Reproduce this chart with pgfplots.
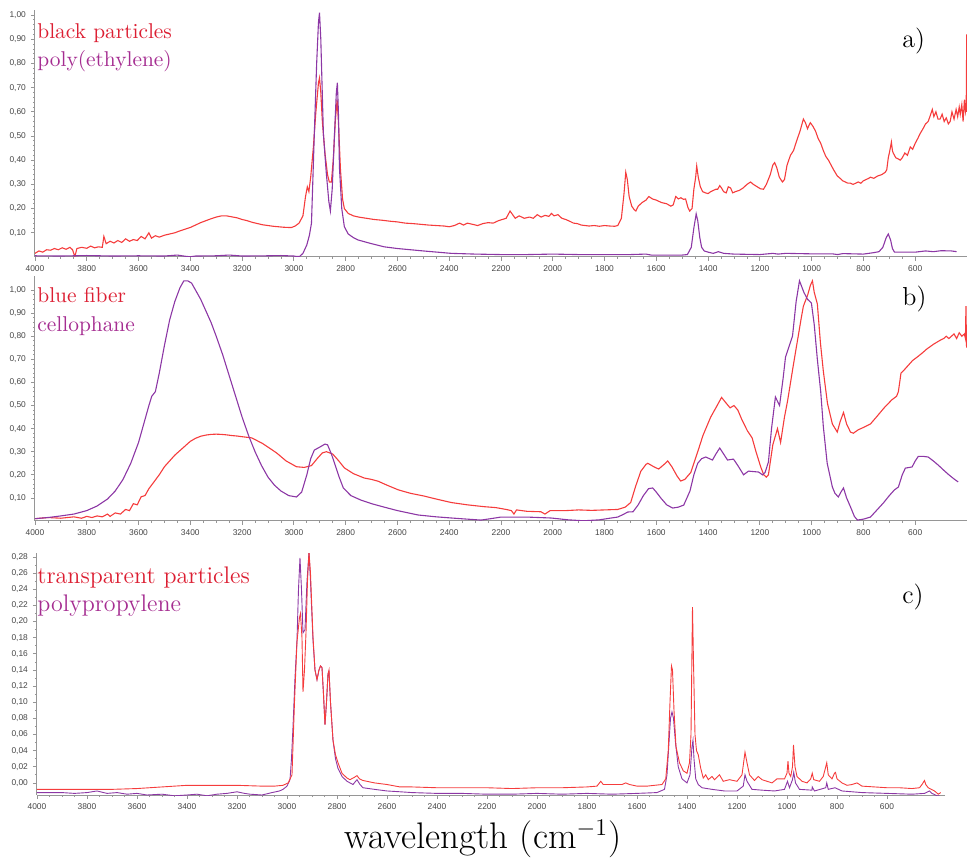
\documentclass[border=0pt]{standalone}
\usepackage{fontspec}
\usepackage{pgfplots}
\usepackage{pgfplotstable}
\pgfplotsset{compat=1.18}
\newfontfamily\ticksans{Liberation Sans}
\definecolor{redline}{RGB}{245,60,60}
\definecolor{purpline}{RGB}{140,55,165}
\definecolor{redtxt}{RGB}{220,30,50}
\definecolor{purptxt}{RGB}{165,45,145}
\definecolor{axgray}{RGB}{150,150,150}
\definecolor{ticktxt}{RGB}{70,70,70}

% ---------- panel a ----------
\pgfplotstableread[row sep=\\]{x y\\
4000 0.015\\ 3985 0.025\\ 3970 0.020\\ 3955 0.030\\ 3940 0.028\\ 3925 0.035\\ 3910 0.030\\ 3895 0.038\\ 3880 0.032\\ 3865 0.040\\
3855 0.030\\ 3846 0.002\\ 3838 0.035\\ 3820 0.040\\ 3800 0.036\\ 3785 0.045\\ 3770 0.038\\ 3755 0.042\\ 3740 0.040\\ 3734 0.085\\
3725 0.055\\ 3710 0.065\\ 3695 0.058\\ 3680 0.068\\ 3665 0.060\\ 3650 0.075\\ 3635 0.065\\ 3620 0.072\\ 3605 0.068\\ 3590 0.085\\
3575 0.075\\ 3560 0.100\\ 3550 0.078\\ 3535 0.088\\ 3520 0.082\\ 3500 0.090\\ 3480 0.095\\ 3460 0.100\\ 3440 0.108\\ 3420 0.115\\
3400 0.122\\ 3380 0.132\\ 3360 0.142\\ 3340 0.150\\ 3320 0.158\\ 3300 0.165\\ 3280 0.170\\ 3260 0.170\\ 3240 0.166\\ 3220 0.162\\
3200 0.155\\ 3180 0.150\\ 3160 0.143\\ 3140 0.138\\ 3120 0.133\\ 3100 0.130\\ 3080 0.127\\ 3060 0.125\\ 3040 0.123\\ 3020 0.122\\
3009 0.122\\ 2995 0.128\\ 2980 0.140\\ 2965 0.170\\ 2955 0.250\\ 2948 0.290\\ 2942 0.270\\ 2935 0.330\\ 2925 0.450\\ 2915 0.600\\
2905 0.720\\ 2901 0.740\\ 2896 0.680\\ 2890 0.560\\ 2880 0.430\\ 2870 0.340\\ 2863 0.310\\ 2855 0.310\\ 2848 0.400\\ 2840 0.560\\
2833 0.650\\ 2828 0.560\\ 2820 0.360\\ 2812 0.240\\ 2805 0.200\\ 2790 0.180\\ 2770 0.170\\ 2750 0.165\\ 2720 0.160\\ 2690 0.155\\
2660 0.152\\ 2630 0.148\\ 2600 0.145\\ 2570 0.140\\ 2540 0.138\\ 2510 0.135\\ 2480 0.132\\ 2450 0.130\\ 2420 0.128\\ 2400 0.125\\
2380 0.130\\ 2360 0.140\\ 2345 0.132\\ 2330 0.140\\ 2310 0.135\\ 2290 0.130\\ 2270 0.138\\ 2250 0.142\\ 2230 0.140\\ 2210 0.150\\
2195 0.155\\ 2180 0.160\\ 2165 0.190\\ 2155 0.175\\ 2145 0.160\\ 2130 0.170\\ 2110 0.160\\ 2090 0.165\\ 2075 0.160\\ 2060 0.175\\
2045 0.165\\ 2030 0.172\\ 2015 0.168\\ 2005 0.180\\ 1995 0.170\\ 1980 0.175\\ 1965 0.160\\ 1950 0.155\\ 1935 0.148\\ 1920 0.140\\
1905 0.138\\ 1890 0.132\\ 1875 0.130\\ 1860 0.128\\ 1840 0.130\\ 1820 0.127\\ 1800 0.130\\ 1780 0.128\\ 1760 0.127\\ 1749 0.130\\
1735 0.160\\ 1725 0.260\\ 1718 0.350\\ 1712 0.320\\ 1705 0.250\\ 1695 0.210\\ 1685 0.195\\ 1679 0.190\\ 1670 0.210\\ 1655 0.225\\
1640 0.235\\ 1629 0.250\\ 1615 0.240\\ 1600 0.235\\ 1580 0.225\\ 1560 0.220\\ 1544 0.210\\ 1535 0.215\\ 1525 0.250\\ 1515 0.240\\
1505 0.245\\ 1495 0.238\\ 1487 0.240\\ 1478 0.205\\ 1471 0.190\\ 1462 0.200\\ 1455 0.280\\ 1448 0.330\\ 1444 0.376\\ 1438 0.330\\
1430 0.290\\ 1421 0.270\\ 1410 0.265\\ 1400 0.262\\ 1390 0.270\\ 1380 0.275\\ 1370 0.280\\ 1363 0.280\\ 1355 0.295\\ 1348 0.285\\
1340 0.270\\ 1330 0.265\\ 1322 0.290\\ 1313 0.285\\ 1305 0.265\\ 1295 0.270\\ 1280 0.275\\ 1265 0.285\\ 1250 0.300\\ 1236 0.310\\
1225 0.300\\ 1210 0.290\\ 1198 0.282\\ 1186 0.280\\ 1175 0.300\\ 1160 0.340\\ 1150 0.380\\ 1143 0.390\\ 1135 0.370\\ 1125 0.330\\
1113 0.310\\ 1105 0.320\\ 1095 0.380\\ 1082 0.420\\ 1070 0.440\\ 1058 0.480\\ 1045 0.520\\ 1032 0.570\\ 1024 0.555\\ 1016 0.530\\
1010 0.545\\ 1005 0.555\\ 995 0.540\\ 985 0.520\\ 975 0.490\\ 965 0.470\\ 955 0.440\\ 945 0.415\\ 935 0.400\\ 925 0.380\\
915 0.360\\ 901 0.335\\ 890 0.325\\ 880 0.315\\ 870 0.310\\ 860 0.305\\ 850 0.305\\ 840 0.300\\ 830 0.305\\ 820 0.310\\
810 0.305\\ 800 0.315\\ 790 0.320\\ 780 0.325\\ 773 0.330\\ 760 0.325\\ 745 0.335\\ 730 0.340\\ 716 0.350\\ 710 0.360\\
704 0.410\\ 698 0.440\\ 692 0.475\\ 688 0.440\\ 685 0.430\\ 675 0.410\\ 665 0.405\\ 658 0.400\\ 650 0.410\\ 640 0.430\\
630 0.420\\ 619 0.455\\ 610 0.445\\ 600 0.470\\ 590 0.490\\ 581 0.510\\ 570 0.530\\ 560 0.550\\ 550 0.560\\ 540 0.590\\
534 0.610\\ 528 0.580\\ 520 0.600\\ 512 0.570\\ 504 0.570\\ 496 0.590\\ 488 0.560\\ 480 0.575\\ 472 0.550\\ 465 0.560\\
458 0.600\\ 450 0.570\\ 442 0.610\\ 436 0.580\\ 430 0.620\\ 426 0.590\\ 420 0.630\\ 415 0.560\\ 410 0.650\\ 406 0.600\\
403 0.620\\ 401 0.920\\ 400 0.600\\
}\redA

\pgfplotstableread[row sep=\\]{x y\\
4000 0.005\\ 3900 0.004\\ 3800 0.006\\ 3700 0.004\\ 3600 0.005\\ 3500 0.004\\ 3450 0.008\\ 3420 0.003\\ 3400 0.001\\ 3380 0.004\\
3300 0.005\\ 3250 0.008\\ 3200 0.004\\ 3100 0.005\\ 3050 0.006\\ 3000 0.004\\ 2990 0.002\\ 2978 0.002\\ 2965 0.015\\ 2950 0.050\\
2940 0.090\\ 2932 0.140\\ 2921 0.510\\ 2912 0.800\\ 2905 0.970\\ 2901 1.010\\ 2896 0.900\\ 2886 0.510\\ 2875 0.350\\ 2865 0.230\\
2859 0.190\\ 2852 0.280\\ 2843 0.510\\ 2836 0.680\\ 2832 0.720\\ 2828 0.600\\ 2824 0.370\\ 2815 0.200\\ 2805 0.125\\ 2790 0.095\\
2770 0.080\\ 2751 0.070\\ 2700 0.055\\ 2651 0.042\\ 2600 0.035\\ 2500 0.025\\ 2392 0.015\\ 2300 0.012\\ 2200 0.010\\ 2100 0.010\\
2000 0.012\\ 1900 0.010\\ 1800 0.010\\ 1700 0.010\\ 1640 0.012\\ 1620 0.008\\ 1500 0.008\\ 1480 0.010\\ 1465 0.040\\ 1455 0.120\\
1446 0.178\\ 1440 0.150\\ 1432 0.080\\ 1425 0.040\\ 1415 0.025\\ 1400 0.020\\ 1380 0.015\\ 1360 0.022\\ 1340 0.015\\ 1300 0.012\\
1200 0.010\\ 1150 0.015\\ 1130 0.012\\ 1100 0.015\\ 1000 0.013\\ 920 0.013\\ 900 0.010\\ 880 0.014\\ 800 0.012\\ 760 0.018\\
740 0.022\\ 725 0.040\\ 712 0.080\\ 704 0.095\\ 695 0.070\\ 688 0.035\\ 680 0.020\\ 650 0.020\\ 600 0.020\\ 560 0.025\\
530 0.022\\ 500 0.026\\ 460 0.025\\ 440 0.022\\
}\purA

% ---------- panel b ----------
\pgfplotstableread[row sep=\\]{x y\\
4000 0.010\\ 3950 0.015\\ 3900 0.012\\ 3850 0.018\\ 3820 0.012\\ 3800 0.020\\ 3780 0.015\\ 3760 0.022\\ 3740 0.018\\ 3720 0.030\\
3710 0.020\\ 3690 0.035\\ 3670 0.030\\ 3650 0.050\\ 3635 0.045\\ 3620 0.075\\ 3605 0.070\\ 3590 0.105\\ 3575 0.110\\ 3560 0.140\\
3540 0.170\\ 3520 0.200\\ 3500 0.235\\ 3480 0.260\\ 3460 0.285\\ 3440 0.305\\ 3420 0.325\\ 3400 0.345\\ 3380 0.358\\ 3360 0.367\\
3340 0.372\\ 3320 0.375\\ 3300 0.376\\ 3280 0.375\\ 3260 0.373\\ 3240 0.370\\ 3220 0.368\\ 3200 0.365\\ 3163 0.360\\ 3120 0.335\\
3067 0.295\\ 3030 0.260\\ 2990 0.235\\ 2960 0.232\\ 2932 0.240\\ 2910 0.270\\ 2890 0.295\\ 2874 0.300\\ 2850 0.290\\ 2828 0.262\\
2805 0.230\\ 2770 0.205\\ 2728 0.186\\ 2700 0.180\\ 2674 0.172\\ 2640 0.155\\ 2597 0.135\\ 2550 0.120\\ 2497 0.108\\ 2450 0.095\\
2392 0.080\\ 2330 0.070\\ 2265 0.062\\ 2220 0.058\\ 2180 0.050\\ 2160 0.045\\ 2150 0.030\\ 2140 0.048\\ 2100 0.042\\ 2046 0.040\\
2030 0.030\\ 2010 0.045\\ 1950 0.045\\ 1900 0.048\\ 1850 0.046\\ 1800 0.048\\ 1749 0.050\\ 1720 0.060\\ 1699 0.080\\ 1680 0.150\\
1660 0.215\\ 1640 0.245\\ 1633 0.250\\ 1610 0.235\\ 1591 0.225\\ 1570 0.245\\ 1556 0.260\\ 1540 0.235\\ 1520 0.195\\ 1506 0.173\\
1490 0.180\\ 1467 0.210\\ 1440 0.300\\ 1420 0.370\\ 1390 0.450\\ 1370 0.490\\ 1348 0.535\\ 1330 0.510\\ 1315 0.490\\ 1300 0.500\\
1285 0.480\\ 1270 0.440\\ 1248 0.390\\ 1230 0.360\\ 1215 0.300\\ 1197 0.235\\ 1185 0.200\\ 1175 0.190\\ 1167 0.200\\ 1150 0.330\\
1132 0.400\\ 1120 0.340\\ 1105 0.450\\ 1093 0.520\\ 1070 0.680\\ 1055 0.780\\ 1040 0.880\\ 1032 0.930\\ 1015 0.980\\ 1005 1.020\\
997 1.040\\ 990 0.990\\ 978 0.940\\ 966 0.770\\ 955 0.650\\ 939 0.510\\ 920 0.420\\ 901 0.385\\ 890 0.430\\ 877 0.470\\
865 0.420\\ 850 0.385\\ 839 0.380\\ 820 0.395\\ 800 0.405\\ 773 0.420\\ 750 0.450\\ 720 0.490\\ 690 0.525\\ 672 0.540\\
665 0.560\\ 655 0.640\\ 646 0.650\\ 630 0.670\\ 610 0.695\\ 592 0.710\\ 570 0.730\\ 555 0.745\\ 542 0.755\\ 530 0.765\\
515 0.775\\ 500 0.785\\ 490 0.790\\ 480 0.800\\ 470 0.790\\ 460 0.800\\ 450 0.810\\ 440 0.790\\ 430 0.815\\ 420 0.800\\
410 0.810\\ 406 0.790\\ 404 0.930\\ 402 0.760\\ 400 0.750\\
}\redB

\pgfplotstableread[row sep=\\]{x y\\
4000 0.010\\ 3950 0.015\\ 3900 0.022\\ 3850 0.030\\ 3800 0.045\\ 3760 0.065\\ 3720 0.095\\ 3690 0.130\\ 3660 0.180\\ 3630 0.250\\
3600 0.340\\ 3580 0.420\\ 3560 0.500\\ 3549 0.540\\ 3535 0.560\\ 3520 0.640\\ 3500 0.760\\ 3480 0.870\\ 3460 0.950\\ 3440 1.010\\
3425 1.040\\ 3410 1.040\\ 3395 1.030\\ 3380 1.000\\ 3360 0.960\\ 3340 0.910\\ 3320 0.860\\ 3300 0.800\\ 3275 0.720\\ 3250 0.630\\
3225 0.540\\ 3200 0.450\\ 3175 0.370\\ 3150 0.300\\ 3125 0.240\\ 3100 0.190\\ 3075 0.155\\ 3050 0.130\\ 3020 0.110\\ 2990 0.104\\
2970 0.125\\ 2950 0.200\\ 2935 0.270\\ 2921 0.307\\ 2900 0.320\\ 2880 0.333\\ 2870 0.330\\ 2855 0.290\\ 2843 0.250\\ 2825 0.190\\
2809 0.143\\ 2780 0.110\\ 2740 0.090\\ 2700 0.075\\ 2651 0.060\\ 2600 0.045\\ 2520 0.026\\ 2450 0.018\\ 2392 0.013\\ 2330 0.008\\
2277 0.004\\ 2240 0.010\\ 2200 0.017\\ 2100 0.017\\ 2007 0.013\\ 1940 0.005\\ 1880 0.001\\ 1820 0.005\\ 1780 0.012\\ 1749 0.017\\
1725 0.030\\ 1710 0.039\\ 1690 0.040\\ 1670 0.070\\ 1650 0.110\\ 1630 0.140\\ 1614 0.143\\ 1600 0.125\\ 1583 0.100\\ 1560 0.070\\
1537 0.056\\ 1515 0.060\\ 1494 0.069\\ 1470 0.130\\ 1455 0.200\\ 1440 0.250\\ 1425 0.270\\ 1409 0.277\\ 1383 0.264\\ 1370 0.290\\
1355 0.316\\ 1340 0.290\\ 1325 0.264\\ 1302 0.268\\ 1285 0.240\\ 1263 0.200\\ 1244 0.216\\ 1225 0.214\\ 1205 0.212\\ 1190 0.200\\
1180 0.210\\ 1167 0.255\\ 1155 0.400\\ 1140 0.537\\ 1124 0.500\\ 1110 0.620\\ 1101 0.710\\ 1074 0.800\\ 1060 0.950\\ 1047 1.040\\
1030 0.990\\ 1016 0.960\\ 1001 0.944\\ 990 0.850\\ 978 0.700\\ 965 0.560\\ 955 0.410\\ 940 0.250\\ 920 0.147\\ 910 0.120\\
897 0.104\\ 887 0.125\\ 877 0.143\\ 865 0.100\\ 850 0.061\\ 835 0.020\\ 823 0.004\\ 800 0.008\\ 773 0.017\\ 750 0.045\\
723 0.078\\ 700 0.110\\ 680 0.135\\ 665 0.147\\ 650 0.200\\ 638 0.229\\ 612 0.234\\ 600 0.260\\ 588 0.280\\ 570 0.280\\
550 0.277\\ 530 0.260\\ 511 0.242\\ 490 0.220\\ 470 0.200\\ 450 0.182\\ 434 0.169\\
}\purB

% ---------- panel c ----------
\pgfplotstableread[row sep=\\]{x y\\
4000 -0.008\\ 3900 -0.008\\ 3800 -0.008\\ 3700 -0.008\\ 3600 -0.007\\ 3500 -0.005\\ 3400 -0.003\\ 3300 -0.003\\ 3200 -0.003\\ 3100 -0.004\\
3050 -0.004\\ 3016 -0.003\\ 2995 0.000\\ 2980 0.010\\ 2970 0.100\\ 2960 0.175\\ 2950 0.205\\ 2946 0.210\\ 2940 0.180\\ 2936 0.113\\
2930 0.140\\ 2924 0.186\\ 2918 0.250\\ 2912 0.286\\ 2906 0.260\\ 2896 0.181\\ 2888 0.140\\ 2880 0.128\\ 2872 0.140\\ 2866 0.145\\
2860 0.143\\ 2854 0.110\\ 2848 0.072\\ 2842 0.100\\ 2836 0.135\\ 2832 0.140\\ 2826 0.100\\ 2816 0.053\\ 2806 0.035\\ 2796 0.025\\
2780 0.012\\ 2760 0.006\\ 2748 0.004\\ 2730 0.007\\ 2720 0.009\\ 2710 0.005\\ 2696 0.003\\ 2650 0.000\\ 2600 -0.002\\ 2548 -0.005\\
2500 -0.005\\ 2400 -0.006\\ 2300 -0.006\\ 2200 -0.006\\ 2100 -0.007\\ 2000 -0.006\\ 1900 -0.006\\ 1800 -0.005\\ 1760 -0.004\\ 1745 0.002\\
1735 -0.002\\ 1700 -0.002\\ 1660 -0.002\\ 1645 0.000\\ 1630 -0.002\\ 1600 -0.004\\ 1560 -0.004\\ 1530 -0.003\\ 1500 -0.002\\ 1485 0.005\\
1475 0.040\\ 1468 0.100\\ 1462 0.145\\ 1458 0.140\\ 1452 0.090\\ 1444 0.045\\ 1430 0.025\\ 1415 0.015\\ 1400 0.012\\ 1390 0.025\\
1384 0.060\\ 1378 0.218\\ 1374 0.150\\ 1368 0.060\\ 1362 0.040\\ 1355 0.035\\ 1345 0.018\\ 1335 0.006\\ 1325 0.010\\ 1315 0.004\\
1300 0.008\\ 1290 0.004\\ 1270 0.010\\ 1255 0.002\\ 1230 0.004\\ 1200 0.002\\ 1180 0.010\\ 1168 0.038\\ 1160 0.025\\ 1150 0.010\\
1130 0.003\\ 1115 0.008\\ 1100 0.004\\ 1060 0.000\\ 1040 0.005\\ 1010 0.005\\ 1000 0.012\\ 996 0.027\\ 992 0.012\\ 985 0.008\\
978 0.020\\ 974 0.047\\ 968 0.020\\ 960 0.008\\ 940 0.002\\ 920 0.000\\ 905 0.005\\ 899 0.012\\ 893 0.004\\ 870 0.002\\
855 0.008\\ 845 0.020\\ 841 0.025\\ 835 0.010\\ 820 0.005\\ 810 0.012\\ 806 0.013\\ 800 0.005\\ 780 0.000\\ 760 -0.003\\
740 -0.002\\ 720 0.000\\ 700 -0.004\\ 650 -0.005\\ 600 -0.006\\ 550 -0.006\\ 500 -0.007\\ 470 -0.006\\ 460 -0.002\\ 450 0.003\\
445 -0.002\\ 435 -0.006\\ 410 -0.010\\ 395 -0.014\\ 385 -0.012\\
}\redC

\pgfplotstableread[row sep=\\]{x y\\
4000 -0.012\\ 3900 -0.012\\ 3850 -0.013\\ 3800 -0.012\\ 3760 -0.010\\ 3720 -0.013\\ 3680 -0.012\\ 3640 -0.014\\ 3600 -0.013\\ 3560 -0.015\\
3500 -0.014\\ 3450 -0.016\\ 3400 -0.015\\ 3360 -0.014\\ 3320 -0.016\\ 3280 -0.014\\ 3240 -0.013\\ 3200 -0.011\\ 3170 -0.013\\ 3148 -0.014\\
3100 -0.015\\ 3060 -0.012\\ 3030 -0.010\\ 3016 -0.008\\ 3000 -0.004\\ 2988 0.004\\ 2982 0.030\\ 2976 0.069\\ 2968 0.130\\ 2960 0.177\\
2954 0.240\\ 2948 0.279\\ 2942 0.240\\ 2936 0.186\\ 2928 0.190\\ 2920 0.250\\ 2912 0.286\\ 2906 0.250\\ 2896 0.177\\ 2888 0.140\\
2880 0.128\\ 2872 0.140\\ 2866 0.145\\ 2860 0.143\\ 2854 0.110\\ 2848 0.072\\ 2842 0.100\\ 2836 0.135\\ 2832 0.138\\ 2826 0.100\\
2816 0.053\\ 2806 0.030\\ 2796 0.018\\ 2780 0.008\\ 2760 0.002\\ 2736 -0.002\\ 2720 0.004\\ 2708 -0.002\\ 2696 -0.006\\ 2650 -0.008\\
2600 -0.010\\ 2548 -0.011\\ 2500 -0.012\\ 2400 -0.013\\ 2300 -0.013\\ 2200 -0.014\\ 2100 -0.014\\ 2000 -0.013\\ 1900 -0.014\\ 1800 -0.013\\
1700 -0.014\\ 1600 -0.013\\ 1520 -0.012\\ 1490 -0.008\\ 1480 0.010\\ 1472 0.050\\ 1466 0.080\\ 1460 0.088\\ 1454 0.080\\ 1446 0.050\\
1435 0.020\\ 1420 0.005\\ 1400 0.000\\ 1388 0.010\\ 1380 0.045\\ 1376 0.053\\ 1372 0.030\\ 1365 0.005\\ 1355 -0.002\\ 1340 -0.006\\
1300 -0.008\\ 1250 -0.010\\ 1200 -0.010\\ 1175 -0.004\\ 1168 0.010\\ 1160 0.002\\ 1140 -0.008\\ 1100 -0.009\\ 1050 -0.010\\ 1010 -0.008\\
998 0.002\\ 990 -0.006\\ 978 0.004\\ 973 0.013\\ 966 0.000\\ 950 -0.008\\ 900 -0.009\\ 899 -0.005\\ 890 -0.010\\ 845 -0.006\\
841 0.000\\ 835 -0.008\\ 808 -0.006\\ 780 -0.010\\ 700 -0.012\\ 600 -0.013\\ 500 -0.014\\ 450 -0.013\\ 430 -0.010\\ 420 -0.013\\
400 -0.016\\ 390 -0.016\\
}\purC

\pgfplotsset{
  spec/.style={
    scale only axis,
    x dir=reverse,
    axis x line*=bottom, axis y line*=left,
    tick pos=left,
    axis line style={axgray, line width=0.5pt},
    tick style={axgray, line width=0.4pt},
    major tick length=2pt, minor tick length=1pt,
    tick align=outside,
    xtick={600,800,...,4000},
    minor x tick num=3,
    scaled ticks=false,
    tick label style={font=\fontsize{4.2}{5}\selectfont\ticksans, text=ticktxt},
    x tick label style={/pgf/number format/.cd, assume math mode=true, 1000 sep={}},
    y tick label style={/pgf/number format/.cd, assume math mode=true, fixed, fixed zerofill, precision=2, use comma},
    xticklabel shift=-1pt, yticklabel shift=-1pt,
    every axis plot/.append style={line width=0.55pt},
  }
}

\begin{document}
\begin{tikzpicture}
\useasboundingbox (0,0) rectangle (484.5pt,428.5pt);

% panel a
\begin{axis}[spec, at={(17.5pt,300pt)}, anchor=south west,
  width=466pt, height=123.4pt,
  xmin=400, xmax=4000, ymin=0, ymax=1.02,
  ytick={0.1,0.2,0.3,0.4,0.5,0.6,0.7,0.8,0.9,1.0}, minor y tick num=4]
  \addplot[redline, no marks] table {\redA};
  \addplot[purpline, no marks] table {\purA};
\end{axis}

% panel b
\begin{axis}[spec, at={(17.5pt,168pt)}, anchor=south west,
  width=466pt, height=122.4pt,
  xmin=400, xmax=4000, ymin=0, ymax=1.06,
  ytick={0.1,0.2,0.3,0.4,0.5,0.6,0.7,0.8,0.9,1.0}, minor y tick num=4]
  \addplot[redline, no marks] table {\redB};
  \addplot[purpline, no marks] table {\purB};
\end{axis}

% panel c
\begin{axis}[spec, at={(18.5pt,31pt)}, anchor=south west,
  width=454pt, height=121pt,
  xmin=368, xmax=4000, ymin=-0.015, ymax=0.285,
  ytick={0,0.02,0.04,0.06,0.08,0.10,0.12,0.14,0.16,0.18,0.20,0.22,0.24,0.26,0.28}, minor y tick num=1,
  every axis plot/.append style={line width=0.45pt}]
  \addplot[purpline, no marks] table {\purC};
  \addplot[redline, no marks] table {\redC};
\end{axis}

% annotations
\node[anchor=base west, inner sep=0pt, text=redtxt, font=\fontsize{10.7}{12}\selectfont] at (18.5pt,409.25pt) {black particles};
\node[anchor=base west, inner sep=0pt, text=purptxt, font=\fontsize{10.7}{12}\selectfont] at (18.5pt,395pt) {poly(ethylene)};
\node[anchor=base west, inner sep=0pt, text=redtxt, font=\fontsize{10.7}{12}\selectfont] at (18.5pt,277pt) {blue fiber};
\node[anchor=base west, inner sep=0pt, text=purptxt, font=\fontsize{10.7}{12}\selectfont] at (18.5pt,262.5pt) {cellophane};
\node[anchor=base west, inner sep=0pt, text=redtxt, font=\fontsize{12}{14}\selectfont] at (18.5pt,136.5pt) {transparent particles};
\node[anchor=base west, inner sep=0pt, text=purptxt, font=\fontsize{12}{14}\selectfont] at (18.5pt,122.5pt) {polypropylene};
\node[anchor=base west, inner sep=0pt, font=\fontsize{13}{15}\selectfont] at (451pt,404.5pt) {a)};
\node[anchor=base west, inner sep=0pt, font=\fontsize{13}{15}\selectfont] at (451pt,275.5pt) {b)};
\node[anchor=base west, inner sep=0pt, font=\fontsize{13}{15}\selectfont] at (451pt,126.5pt) {c)};
\node[anchor=base, inner sep=0pt, font=\fontsize{18.5}{21}\selectfont] at (241.5pt,4.5pt) {wavelength (cm$^{-1}$)};
\end{tikzpicture}
\end{document}
